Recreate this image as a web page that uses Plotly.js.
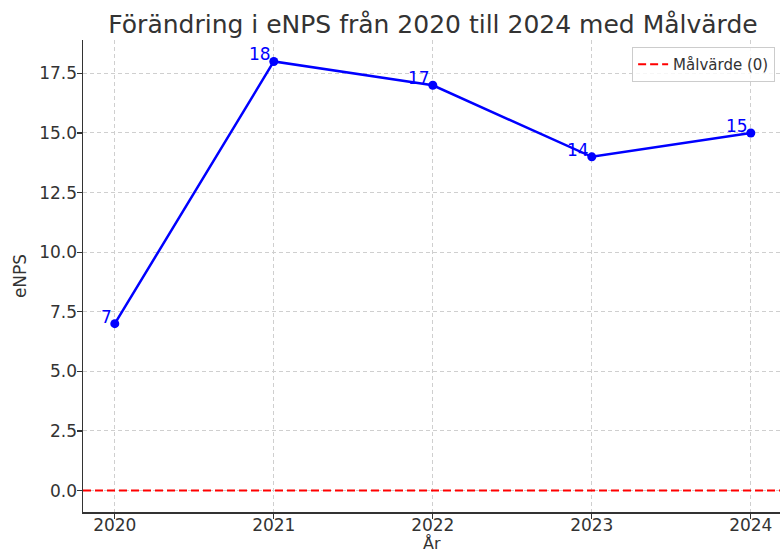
<!DOCTYPE html>
<html>
<head>
<meta charset="utf-8">
<script src="https://cdn.plot.ly/plotly-3.0.1.min.js"></script>
<style>html,body{margin:0;padding:0;background:#fff;}#chart{width:780px;height:553px;}</style>
</head>
<body>
<div id="chart"></div>
<script>
const years = [2020, 2021, 2022, 2023, 2024];
const enps = [7, 18, 17, 14, 15];
const targetValue = 0;
const targetName = "Målvärde (0)";
const yTickVals = [0, 2.5, 5, 7.5, 10, 12.5, 15, 17.5];
const titleText = "Förändring i eNPS från 2020 till 2024 med Målvärde";
const xTitle = "År";
const yTitle = "eNPS";

const FONT = "DejaVu Sans, sans-serif";
const TXT = "#333333";

const mainTrace = {
  x: years, y: enps, type: "scatter", mode: "lines+markers",
  line: {color: "#0000ff", width: 2.5},
  marker: {color: "#0000ff", size: 9},
  showlegend: false, hoverinfo: "skip"
};

const annotations = years.map((yr, i) => ({
  x: yr, y: enps[i], xref: "x", yref: "y",
  text: String(enps[i]), showarrow: false,
  xanchor: "right", yanchor: "bottom",
  xshift: -1, yshift: -5,
  font: {family: FONT, size: 17, color: "#0000ff"}
}));
annotations.push({
  x: 0.5, y: 0, xref: "paper", yref: "paper",
  text: xTitle, showarrow: false, xanchor: "center", yanchor: "bottom",
  yshift: -42, borderpad: 0, font: {family: FONT, size: 16, color: TXT}
});

const layout = {
  width: 780, height: 553,
  margin: {l: 83, r: 0, t: 40, b: 41, pad: 0},
  paper_bgcolor: "#ffffff", plot_bgcolor: "#ffffff",
  font: {family: FONT, color: TXT, size: 17},
  title: {
    text: titleText, font: {family: FONT, size: 25, color: TXT},
    x: 433/780, xref: "container", xanchor: "center",
    y: 1 - 24/553, yref: "container", yanchor: "middle"
  },
  xaxis: {
    range: [2019.8, 2019.8 + 697/159],
    tickvals: years, ticktext: years.map(String),
    showline: true, linecolor: "#333333", linewidth: 1.5, mirror: false,
    ticks: "outside", ticklen: 5, tickwidth: 1.2, tickcolor: "#333333",
    ticklabelstandoff: -8,
    showgrid: true, gridcolor: "#cfcfcf", griddash: "4px,3px", gridwidth: 1,
    zeroline: false,
    tickfont: {family: FONT, size: 17, color: TXT}
  },
  yaxis: {
    range: [-0.9, 18.9],
    tickvals: yTickVals, ticktext: yTickVals.map(v => v.toFixed(1)),
    showline: true, linecolor: "#333333", linewidth: 1.5, mirror: false,
    ticks: "outside", ticklen: 5, tickwidth: 1.2, tickcolor: "#333333",
    ticklabelstandoff: -4,
    showgrid: true, gridcolor: "#cfcfcf", griddash: "4px,3px", gridwidth: 1,
    zeroline: false,
    tickfont: {family: FONT, size: 17, color: TXT},
    title: {text: yTitle, font: {family: FONT, size: 17, color: TXT}, standoff: 8}
  },
  shapes: [{
    type: "line", xref: "paper", x0: 0, x1: 1, yref: "y", y0: targetValue, y1: targetValue,
    line: {color: "#ff0000", width: 2, dash: "8px,4px"},
    showlegend: true, name: targetName, layer: "above"
  }],
  showlegend: true,
  legend: {
    x: 0.993, y: 0.985, xanchor: "right", yanchor: "top",
    bgcolor: "rgba(255,255,255,0.8)", bordercolor: "#cccccc", borderwidth: 1,
    font: {family: FONT, size: 15, color: TXT}
  },
  annotations: annotations
};

Plotly.newPlot("chart", [mainTrace], layout, {displayModeBar: false, staticPlot: true});
</script>
</body>
</html>
